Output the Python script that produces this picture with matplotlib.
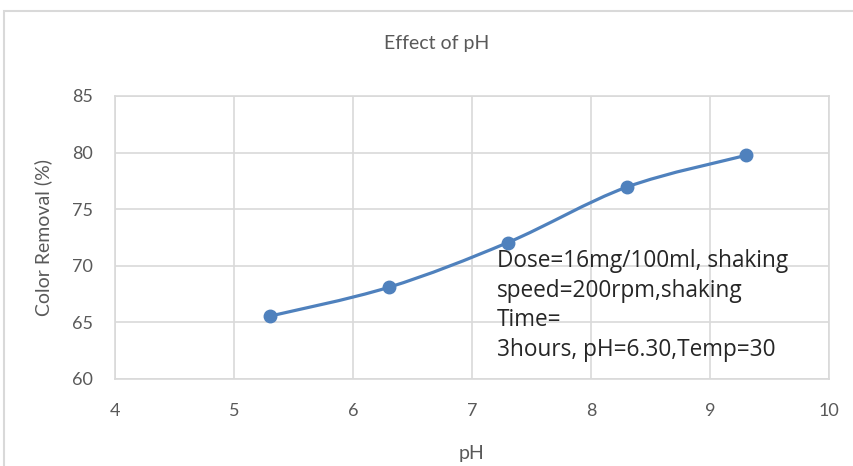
import numpy as np
import matplotlib
matplotlib.use('Agg')
import matplotlib.pyplot as plt
from matplotlib.path import Path
from matplotlib.patches import PathPatch, Rectangle

# data
ph = [5.3, 6.3, 7.3, 8.3, 9.3]
removal = [65.55, 68.1, 72.05, 76.95, 79.75]
x_ticks = [4, 5, 6, 7, 8, 9, 10]
y_ticks = [60, 65, 70, 75, 80, 85]
note = "Dose=16mg/100ml, shaking\nspeed=200rpm,shaking\nTime=\n3hours, pH=6.30,Temp=30"

blue = '#4f81bd'
grid_col = '#d9d9d9'
narrow = ['Liberation Sans Narrow', 'Lato', 'DejaVu Sans']


def smooth_path(xs, ys):
    # Catmull-Rom style bezier, like Excel's smoothed line
    pts = np.column_stack([xs, ys]).astype(float)
    ext = np.vstack([pts[0], pts, pts[-1]])
    verts = [pts[0]]
    codes = [Path.MOVETO]
    for i in range(len(pts) - 1):
        p0, p1, p2, p3 = ext[i], ext[i + 1], ext[i + 2], ext[i + 3]
        c1 = p1 + (p2 - p0) / 6.0
        c2 = p2 - (p3 - p1) / 6.0
        verts += [c1, c2, p2]
        codes += [Path.CURVE4] * 3
    return Path(verts, codes)


fig = plt.figure(figsize=(8.54, 4.66), dpi=100)
fig.add_artist(Rectangle((4 / 854, -0.01), 1.0, 1 - 11 / 466 + 0.01,
                         transform=fig.transFigure, fill=False,
                         edgecolor=grid_col, linewidth=1.5))

ax = fig.add_axes([115 / 854, 1 - 379 / 466, 714 / 854, 283 / 466])
ax.set_xlim(4, 10)
ax.set_ylim(60, 85)
ax.set_xticks(x_ticks)
ax.set_yticks(y_ticks)
ax.grid(True, color=grid_col, linewidth=1.2)
ax.set_axisbelow(True)
for s in ax.spines.values():
    s.set_color(grid_col)
    s.set_linewidth(1.2)
ax.tick_params(length=0, colors='#595959', labelsize=13)
ax.tick_params(axis='x', pad=17)
ax.tick_params(axis='y', pad=16)
for lab in ax.get_xticklabels() + ax.get_yticklabels():
    lab.set_family(narrow)

ax.add_patch(PathPatch(smooth_path(ph, removal), facecolor='none',
                       edgecolor=blue, linewidth=2.3, zorder=3))
ax.plot(ph, removal, linestyle='none', marker='o', markersize=9,
        color=blue, zorder=4)

ax.text(7.21, 71.45, note, fontsize=16.3, family=['Open Sans', 'DejaVu Sans'],
        color='#262626', va='top', ha='left', linespacing=1.3, zorder=5)

fig.text(437 / 854, 1 - 44 / 466, 'Effect of pH', ha='center', va='center',
         fontsize=14, color='#595959', family=narrow)
ax.set_xlabel('pH', fontsize=14, color='#595959', family=narrow, labelpad=19)
ax.set_ylabel('Color Removal (%)', fontsize=14, color='#595959',
              family=narrow, labelpad=14)

fig.savefig('out.png', dpi=100)
